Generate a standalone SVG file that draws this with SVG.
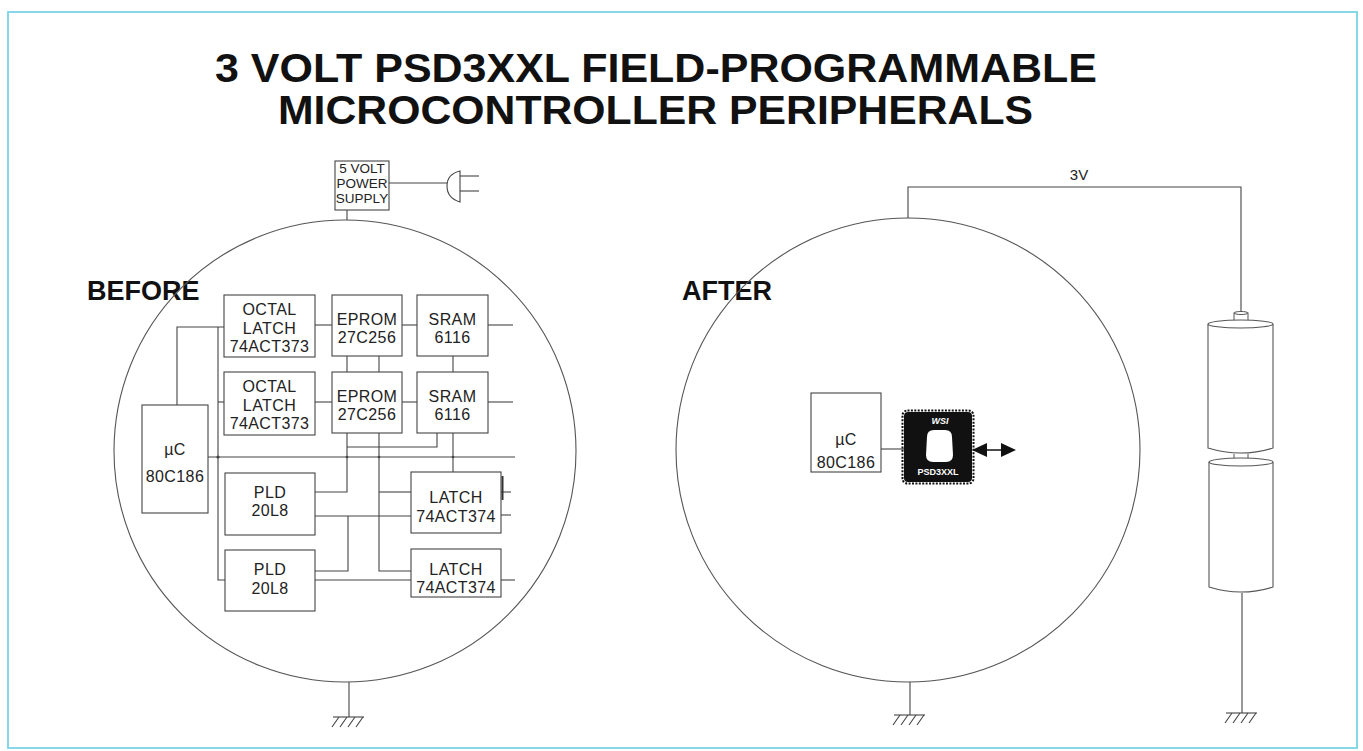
<svg xmlns="http://www.w3.org/2000/svg" width="1363" height="751" viewBox="0 0 1363 751">
  <style>
    .title { font-family: "Liberation Sans", Arial, sans-serif; font-weight: bold; font-size: 40px; fill: #111; }
    .tag { font-family: "Liberation Sans", Arial, sans-serif; font-weight: bold; font-size: 27px; fill: #111; }
    .lbl { font-family: "Liberation Sans", Arial, sans-serif; font-size: 16px; fill: #222; text-anchor: middle; letter-spacing: 0.4px; }
    .sm { font-family: "Liberation Sans", Arial, sans-serif; font-size: 13.5px; fill: #222; text-anchor: middle; }
    .box { fill: #fff; stroke: #444; stroke-width: 1.1; }
    .wire { fill: none; stroke: #444; stroke-width: 1.1; }
    .ring { fill: none; stroke: #555; stroke-width: 1.1; }
    .chiptxt { font-family: "Liberation Sans", Arial, sans-serif; font-weight: bold; fill: #fff; text-anchor: middle; }
  </style>
  <defs>
    <g id="gnd">
      <line x1="-16" y1="0" x2="15" y2="0" stroke="#444" stroke-width="1.1"/>
      <path d="M-10,0 L-17,10 M-2,0 L-9,10 M6,0 L-1,10 M14,0 L7,10" stroke="#444" stroke-width="1.1" fill="none"/>
    </g>
  </defs>

  <rect width="1363" height="751" fill="#fff"/>
  <!-- page frame -->
  <rect x="8" y="12" width="1349" height="736" fill="none" stroke="#86d8e8" stroke-width="2"/>

  <!-- heading -->
  <text class="title" x="215" y="82" textLength="882" lengthAdjust="spacingAndGlyphs">3 VOLT PSD3XXL FIELD-PROGRAMMABLE</text>
  <text class="title" x="278" y="124" textLength="755" lengthAdjust="spacingAndGlyphs">MICROCONTROLLER PERIPHERALS</text>

  <text class="tag" x="87" y="300">BEFORE</text>
  <text class="tag" x="682" y="300">AFTER</text>

  <!-- board outlines -->
  <circle class="ring" cx="345" cy="451" r="231"/>
  <circle class="ring" cx="908" cy="450" r="232"/>

  <!-- connectors -->
  <g id="connectors">
    <!-- mains supply -->
    <line class="wire" x1="347" y1="210" x2="347" y2="220"/>
    <line class="wire" x1="389" y1="183" x2="447" y2="183"/>
    <!-- µC to latches and left bus -->
    <path class="wire" d="M177,405 V327 H224"/>
    <path class="wire" d="M218,327 V580 H226"/>
    <line class="wire" x1="218" y1="402" x2="224" y2="402"/>
    <!-- main data bus -->
    <line class="wire" x1="208" y1="457" x2="515" y2="457"/>
    <!-- row 1 -->
    <line class="wire" x1="315" y1="325" x2="332" y2="325"/>
    <line class="wire" x1="402" y1="325" x2="417" y2="325"/>
    <line class="wire" x1="488" y1="325" x2="513" y2="325"/>
    <!-- row 2 -->
    <line class="wire" x1="315" y1="402" x2="332" y2="402"/>
    <line class="wire" x1="402" y1="402" x2="417" y2="402"/>
    <line class="wire" x1="488" y1="402" x2="513" y2="402"/>
    <!-- EPROM / SRAM stacking -->
    <line class="wire" x1="347" y1="356" x2="347" y2="372"/>
    <line class="wire" x1="379" y1="356" x2="379" y2="372"/>
    <line class="wire" x1="453" y1="356" x2="453" y2="372"/>
    <path class="wire" d="M347,433 V492 H315"/>
    <path class="wire" d="M379,433 V571 H411"/>
    <path class="wire" d="M347,447 H437 V433"/>
    <line class="wire" x1="453" y1="433" x2="453" y2="472"/>
    <line class="wire" x1="379" y1="492" x2="411" y2="492"/>
    <!-- PLD links -->
    <line class="wire" x1="315" y1="516" x2="411" y2="516"/>
    <path class="wire" d="M315,571 H348 V516"/>
    <line class="wire" x1="315" y1="580" x2="411" y2="580"/>
    <!-- latch outputs -->
    <line class="wire" x1="501" y1="492" x2="511" y2="492"/>
    <line class="wire" x1="501" y1="515" x2="511" y2="515"/>
    <line x1="502.5" y1="476" x2="502.5" y2="500" stroke="#333" stroke-width="2"/>
    <line class="wire" x1="501" y1="580" x2="515" y2="580"/>
    <!-- junction dots -->
    <circle cx="218" cy="457" r="1.6" fill="#444"/>
    <circle cx="347" cy="457" r="1.3" fill="#444"/>
    <circle cx="379" cy="457" r="1.3" fill="#444"/>
    <circle cx="453" cy="457" r="1.3" fill="#444"/>
    <!-- grounds -->
    <line class="wire" x1="349" y1="682" x2="349" y2="717"/>
    <use href="#gnd" x="349" y="717"/>
    <line class="wire" x1="910" y1="682" x2="910" y2="715"/>
    <use href="#gnd" x="910" y="715"/>
    <!-- after: 3V rail -->
    <path class="wire" d="M908,218 V187 H1241 V313"/>
    <line class="wire" x1="1242" y1="593" x2="1242" y2="713"/>
    <use href="#gnd" x="1242" y="713"/>
    <!-- µC to PSD -->
    <line class="wire" x1="881" y1="449" x2="904" y2="449"/>
    <!-- bidirectional port arrow -->
    <line x1="980" y1="450" x2="1008" y2="450" stroke="#111" stroke-width="1.5"/>
    <polygon points="972,450 987,443 987,457" fill="#111"/>
    <polygon points="1016,450 1001,443 1001,457" fill="#111"/>
  </g>

  <text class="sm" x="1079" y="180" style="font-size:15px">3V</text>

  <!-- power supply -->
  <g id="power-supply">
    <rect class="box" x="335" y="161" width="54" height="49"/>
    <text class="sm" x="362" y="173">5 VOLT</text>
    <text class="sm" x="362" y="188">POWER</text>
    <text class="sm" x="362" y="203">SUPPLY</text>
  </g>
  <g id="plug">
    <path class="wire" d="M460,171 Q447,174 447,186 Q447,198 460,202 Z"/>
    <line class="wire" x1="460" y1="176" x2="479" y2="176"/>
    <line class="wire" x1="460" y1="191" x2="479" y2="191"/>
  </g>

  <!-- BEFORE parts -->
  <g id="octal-latch-1">
    <rect class="box" x="224" y="295" width="91" height="62"/>
    <text class="lbl" x="269.5" y="315">OCTAL</text>
    <text class="lbl" x="269.5" y="334">LATCH</text>
    <text class="lbl" x="269.5" y="352">74ACT373</text>
  </g>
  <g id="octal-latch-2">
    <rect class="box" x="224" y="372" width="91" height="63"/>
    <text class="lbl" x="269.5" y="392">OCTAL</text>
    <text class="lbl" x="269.5" y="411">LATCH</text>
    <text class="lbl" x="269.5" y="429">74ACT373</text>
  </g>
  <g id="eprom-1">
    <rect class="box" x="332" y="295" width="70" height="61"/>
    <text class="lbl" x="367" y="325">EPROM</text>
    <text class="lbl" x="367" y="343">27C256</text>
  </g>
  <g id="eprom-2">
    <rect class="box" x="332" y="372" width="70" height="61"/>
    <text class="lbl" x="367" y="402">EPROM</text>
    <text class="lbl" x="367" y="420">27C256</text>
  </g>
  <g id="sram-1">
    <rect class="box" x="417" y="295" width="71" height="61"/>
    <text class="lbl" x="452.5" y="325">SRAM</text>
    <text class="lbl" x="452.5" y="343">6116</text>
  </g>
  <g id="sram-2">
    <rect class="box" x="417" y="372" width="71" height="61"/>
    <text class="lbl" x="452.5" y="402">SRAM</text>
    <text class="lbl" x="452.5" y="420">6116</text>
  </g>
  <g id="uc-before">
    <rect class="box" x="142" y="405" width="66" height="108"/>
    <text class="lbl" x="175" y="455">µC</text>
    <text class="lbl" x="175" y="482">80C186</text>
  </g>
  <g id="pld-1">
    <rect class="box" x="225" y="473" width="90" height="62"/>
    <text class="lbl" x="270" y="498">PLD</text>
    <text class="lbl" x="270" y="516">20L8</text>
  </g>
  <g id="pld-2">
    <rect class="box" x="225" y="550" width="90" height="61"/>
    <text class="lbl" x="270" y="575">PLD</text>
    <text class="lbl" x="270" y="594">20L8</text>
  </g>
  <g id="latch-1">
    <rect class="box" x="411" y="472" width="90" height="61"/>
    <text class="lbl" x="456" y="503">LATCH</text>
    <text class="lbl" x="456" y="522">74ACT374</text>
  </g>
  <g id="latch-2">
    <rect class="box" x="411" y="549" width="90" height="48"/>
    <text class="lbl" x="456" y="575">LATCH</text>
    <text class="lbl" x="456" y="593">74ACT374</text>
  </g>

  <!-- AFTER parts -->
  <g id="uc-after">
    <rect class="box" x="811" y="393" width="70" height="79"/>
    <text class="lbl" x="846" y="445">µC</text>
    <text class="lbl" x="846" y="468">80C186</text>
  </g>
  <g id="psd3xxl">
    <rect x="902.5" y="410.5" width="71" height="73" rx="5" fill="none" stroke="#111" stroke-width="2" stroke-dasharray="2 1.4"/>
    <rect x="904" y="412" width="68" height="70" rx="4" fill="#111"/>
    <text class="chiptxt" x="940" y="424" style="font-size:9px;font-style:italic">WSI</text>
    <path d="M927,437 Q927,430 934,430 L945,430 Q952,430 952,437 L953,455 Q953,462 946,462 L933,462 Q926,462 926,455 Z" fill="#fff"/>
    <text class="chiptxt" x="938" y="475" style="font-size:9px">PSD3XXL</text>
  </g>

  <!-- cells -->
  <g id="battery">
    <rect x="1234" y="313" width="14" height="10" fill="#fff" stroke="#555" stroke-width="1"/>
    <ellipse cx="1241" cy="313" rx="7" ry="1.5" fill="#fff" stroke="#555" stroke-width="1"/>
    <path d="M1208,324 V448 Q1240.5,458 1273,448 V324" fill="#fff" stroke="#555" stroke-width="1.1"/>
    <ellipse cx="1240.5" cy="324" rx="32.5" ry="4" fill="#fff" stroke="#555" stroke-width="1.1"/>
    <path d="M1234,454 V460 Q1241,462 1248,460 V454" fill="#fff" stroke="#555" stroke-width="1"/>
    <path d="M1209,462 V587 Q1241,597 1273,587 V462" fill="#fff" stroke="#555" stroke-width="1.1"/>
    <ellipse cx="1241" cy="462" rx="32" ry="4" fill="#fff" stroke="#555" stroke-width="1.1"/>
  </g>
</svg>
